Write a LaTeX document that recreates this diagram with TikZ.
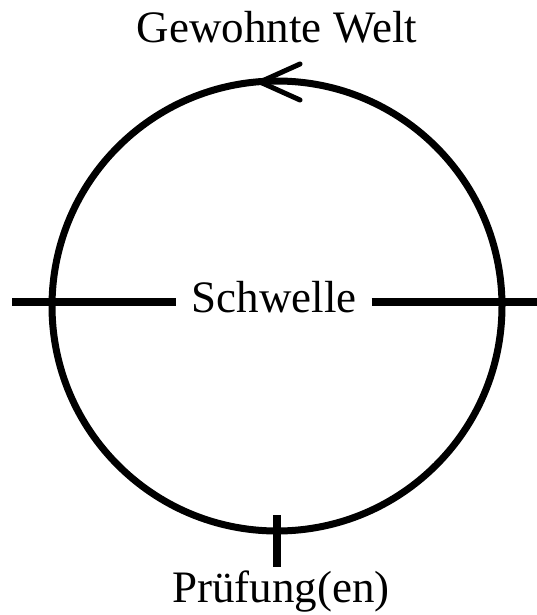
\documentclass[tikz,border=0pt]{standalone}
\usepackage{fontspec}
\setmainfont{Liberation Serif}
\usetikzlibrary{positioning}

\begin{document}
\begin{tikzpicture}[x=1pt, y=-1pt,
    ring/.style={circle, draw=black, line width=7pt,
                 minimum size=450pt, inner sep=0pt},
    word/.style={font=\fontsize{45}{50}\selectfont, inner sep=0pt, anchor=base},
    bar/.style={draw=black, line width=7.5pt},
    barb/.style={draw=black, line width=5pt, line cap=round, line join=round}
  ]
  \useasboundingbox (0,0) rectangle (537,615);

  \node[ring] (ring) at (277,306) {};

  \node[word] (welt) at (277,43) {Gewohnte Welt};
  \node[word, inner xsep=15pt] (schwelle) at (274,312) {Schwelle};
  \node[word] (pruefung) at (281,602) {Prüfung(en)};

  % threshold line
  \coordinate (left)  at (12,302);
  \coordinate (right) at (537,302);
  \draw[bar] (left) -- (left -| schwelle.west);
  \draw[bar] (schwelle.east |- right) -- (right);

  % trial mark
  \coordinate (ticktop) at (ring.south |- 0,515);
  \coordinate (tickbot) at (ring.south |- 0,567);
  \draw[bar] (ticktop) -- (tickbot);

  % direction
  \coordinate (tip) at (260,82);
  \draw[barb] (300,64) -- (tip) -- (300,100);
\end{tikzpicture}
\end{document}
